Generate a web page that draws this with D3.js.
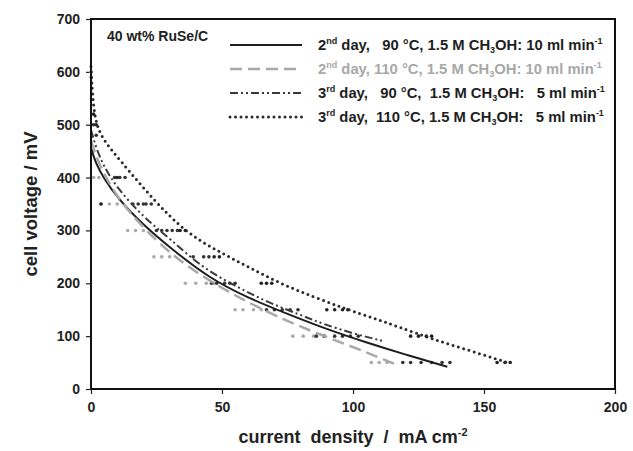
<!DOCTYPE html>
<html>
<head>
<meta charset="utf-8">
<script src="https://cdn.jsdelivr.net/npm/d3@7"></script>
<style>
  body { margin: 0; background: #fff; }
  svg text { font-family: "Liberation Sans", Arial, sans-serif; font-weight: bold; white-space: pre; }
</style>
</head>
<body>
<div class="chart"></div>
<script>
// fitted curves (current density mA cm-2, cell voltage mV)
const curveA = [[0, 455], [2, 425], [5, 398], [10, 362], [20, 310], [30, 268], [45, 210], [60, 172], [75, 142], [90, 113], [105, 88], [120, 65], [136, 42]]
const curveB = [[0, 470], [2, 440], [5, 405], [10, 365], [15, 332], [25, 280], [34, 242], [45, 205], [60, 163], [75, 128], [90, 98], [105, 70], [116, 47]]
const curveC = [[0, 490], [2, 455], [5, 420], [10, 380], [20, 325], [30, 285], [42, 231], [55, 195], [67, 165], [80, 140], [88, 124], [100, 105], [112, 90]]
const curveD = [[0, 610], [0.5, 560], [1.5, 510], [4, 475], [11, 433], [24, 357], [36, 297], [48, 262], [60, 231], [72, 200], [85, 174], [97, 152], [108, 134], [117, 118], [130, 95], [145, 72], [159, 50]]

// measured points
const pointsA = [[0.5, 450], [9, 400], [11, 400], [13, 400], [16, 350], [18, 350], [20, 350], [29, 300], [31, 300], [33, 300], [43, 250], [45, 250], [51, 200], [53, 200], [55, 200], [73, 150], [76, 150], [79, 150], [96, 100], [99, 100], [102, 100], [126, 50], [130, 50], [134, 50], [137, 50]]
const pointsB = [[0, 600], [0, 590], [0.5, 500], [1, 450], [1, 400], [3, 400], [4, 350], [7, 350], [10, 350], [14, 300], [17, 300], [20, 300], [24, 250], [27, 250], [30, 250], [36, 200], [40, 200], [44, 200], [47, 200], [55, 150], [58, 150], [62, 150], [65, 150], [77, 100], [81, 100], [85, 100], [89, 100], [107, 50], [110, 50], [113, 50]]
const pointsC = [[1, 500], [2, 480], [21, 350], [23, 350], [25, 300], [27, 300], [39, 250], [46, 200], [48, 200], [67, 150], [70, 150], [86, 100], [89, 100], [93, 100], [119, 50], [122, 50]]
const pointsD = [[1, 520], [2, 500], [3.8, 350], [10, 400], [34, 300], [36, 300], [47, 250], [49, 250], [65, 200], [67, 200], [69, 200], [90, 150], [93, 150], [96, 150], [98, 150], [122, 100], [125, 100], [128, 100], [130, 100], [155, 50], [158, 50], [160, 50]]

const xTicks = [0, 50, 100, 150, 200]
const yTicks = [0, 100, 200, 300, 400, 500, 600, 700]

const legendRows = [
  [['2'], ['nd', 'sup'], [' day,   90 °C, 1.5 M CH'], ['3', 'sub'], ['OH: 10 ml min'], ['-1', 'sup']],
  [['2'], ['nd', 'sup'], [' day, 110 °C, 1.5 M CH'], ['3', 'sub'], ['OH: 10 ml min'], ['-1', 'sup']],
  [['3'], ['rd', 'sup'], [' day,   90 °C,  1.5 M CH'], ['3', 'sub'], ['OH:   5 ml min'], ['-1', 'sup']],
  [['3'], ['rd', 'sup'], [' day,  110 °C, 1.5 M CH'], ['3', 'sub'], ['OH:   5 ml min'], ['-1', 'sup']]
]

const series = [
  { curve: curveA, points: pointsA, color: '#1e1e1e', width: 2, dash: null, cap: 'butt', pt: '#333' },
  { curve: curveB, points: pointsB, color: '#a8a8a8', width: 2.5, dash: '12,6', cap: 'butt', pt: '#aaa' },
  { curve: curveC, points: pointsC, color: '#3a3a3a', width: 2, dash: '8,3,2,3,2,3', cap: 'butt', pt: '#333' },
  { curve: curveD, points: pointsD, color: '#2a2a2a', width: 3, dash: '0,5.5', cap: 'round', pt: '#222' }
]

const svg = d3.select('.chart')
  .append('svg')
  .attr('width', 633)
  .attr('height', 451)

const x = d3.scaleLinear([0, 200], [91, 615])
const y = d3.scaleLinear([0, 700], [389, 19])

// axes
const yAxis = svg.append('g')
  .attr('transform', `translate(${x(0)},0)`)
  .call(d3.axisLeft(y).tickValues(yTicks).tickSize(5).tickPadding(6))
const xAxis = svg.append('g')
  .attr('transform', `translate(0,${y(0)})`)
  .call(d3.axisBottom(x).tickValues(xTicks).tickSize(5).tickPadding(8))

for (const ax of [xAxis, yAxis]) {
  ax.select('.domain').remove()
  ax.selectAll('line').attr('stroke', '#222').attr('stroke-width', 1.2)
  ax.selectAll('text').attr('fill', '#222').style('font-size', '14px')
}

// data points
series.forEach((s) => {
  svg.append('g')
    .selectAll('circle')
    .data(s.points)
    .enter()
    .append('circle')
    .attr('cx', (d) => x(d[0]))
    .attr('cy', (d) => y(d[1]))
    .attr('r', 1.8)
    .attr('fill', s.pt)
})

// fitted curves
const line = d3.line()
  .x((d) => x(d[0]))
  .y((d) => y(d[1]))
  .curve(d3.curveBasis)

series.forEach((s) => {
  svg.append('path')
    .attr('d', line(s.curve))
    .attr('fill', 'none')
    .attr('stroke', s.color)
    .attr('stroke-width', s.width)
    .attr('stroke-dasharray', s.dash)
    .attr('stroke-linecap', s.cap)
})

// frame
svg.append('rect')
  .attr('x', x(0))
  .attr('y', y(700))
  .attr('width', x(200) - x(0))
  .attr('height', y(0) - y(700))
  .attr('fill', 'none')
  .attr('stroke', '#111')
  .attr('stroke-width', 2)

// legend
svg.append('text')
  .attr('x', 107)
  .attr('y', 41)
  .style('font-size', '14px')
  .attr('fill', '#222')
  .text('40 wt% RuSe/C')

const shift = { sup: -6, sub: 3 }
const legendY = [45, 69, 93, 117]
legendRows.forEach((row, i) => {
  const s = series[i]
  svg.append('line')
    .attr('x1', 230).attr('x2', 302)
    .attr('y1', legendY[i]).attr('y2', legendY[i])
    .attr('stroke', s.color)
    .attr('stroke-width', s.width)
    .attr('stroke-dasharray', s.dash)
    .attr('stroke-linecap', s.cap)

  const t = svg.append('text')
    .attr('x', 318)
    .attr('y', legendY[i] + 5)
    .style('font-size', '14.8px')
    .attr('fill', i === 1 ? '#a8a8a8' : '#1e1e1e')
  let offset = 0
  row.forEach(([txt, kind]) => {
    const target = kind ? shift[kind] : 0
    const ts = t.append('tspan').text(txt).attr('dy', target - offset)
    offset = target
    if (kind) ts.style('font-size', '9px')
  })
})

// axis titles
svg.append('text')
  .attr('transform', `translate(37,${(y(0) + y(700)) / 2}) rotate(-90)`)
  .attr('text-anchor', 'middle')
  .style('font-size', '18.5px')
  .attr('fill', '#222')
  .text('cell voltage / mV')

const xt = svg.append('text')
  .attr('x', (x(0) + x(200)) / 2)
  .attr('y', 443)
  .attr('text-anchor', 'middle')
  .style('font-size', '18px')
  .attr('fill', '#222')
xt.append('tspan').text('current  density  /  mA cm')
xt.append('tspan').attr('dy', -7).style('font-size', '11px').text('-2')
</script>
</body>
</html>
